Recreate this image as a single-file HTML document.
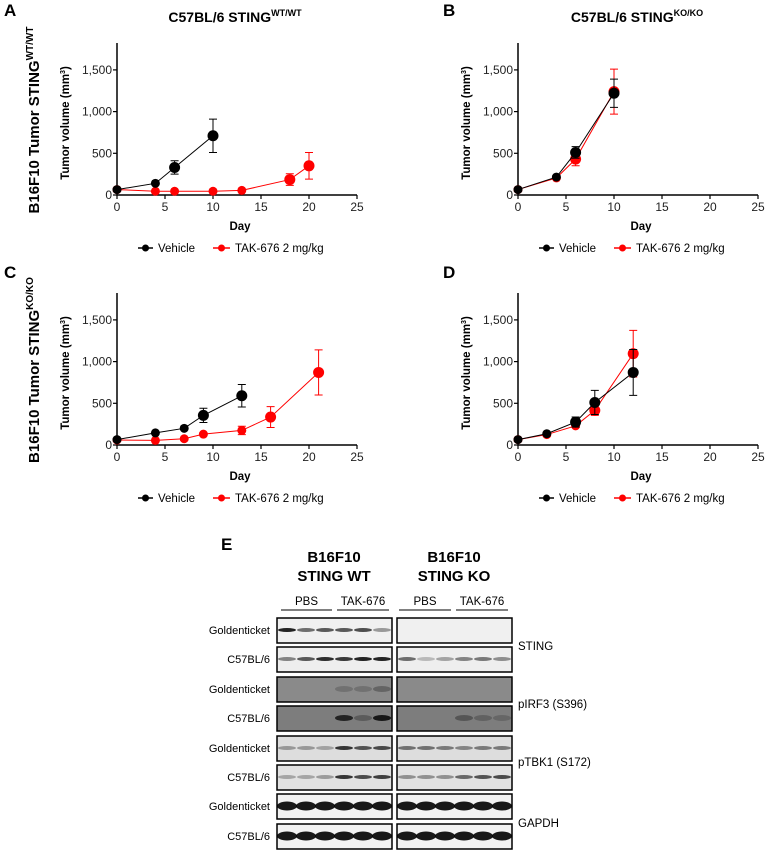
<!DOCTYPE html>
<html><head><meta charset="utf-8"><style>
html,body{margin:0;padding:0;background:#fff;}
svg{display:block;font-family:"Liberation Sans",Arial,sans-serif;}
</style></head><body>
<svg id="fig" width="766" height="850" viewBox="0 0 766 850" xmlns="http://www.w3.org/2000/svg">
<g id="charts"></g>
<g id="blot"></g>
</svg>
<script>
// ---- chart data ----
const daysA_veh=[0,4,6,10];
const valsA_veh=[65,140,330,710];
const errA_veh=[15,20,80,200];
const daysA_tak=[0,4,6,10,13,18,20];
const valsA_tak=[65,45,45,45,55,185,350];
const errA_tak=[10,8,8,8,10,70,160];

const daysB_veh=[0,4,6,10];
const valsB_veh=[65,215,510,1220];
const errB_veh=[10,20,70,170];
const daysB_tak=[0,4,6,10];
const valsB_tak=[65,205,430,1240];
const errB_tak=[10,20,80,270];

const daysC_veh=[0,4,7,9,13];
const valsC_veh=[65,145,200,355,590];
const errC_veh=[10,20,25,85,135];
const daysC_tak=[0,4,7,9,13,16,21];
const valsC_tak=[60,55,75,130,175,335,870];
const errC_tak=[8,10,15,20,50,125,270];

const daysD_veh=[0,3,6,8,12];
const valsD_veh=[65,135,275,510,870];
const errD_veh=[10,15,60,145,275];
const daysD_tak=[0,3,6,8,12];
const valsD_tak=[65,125,230,415,1095];
const errD_tak=[10,15,25,60,280];

const xTicks=[0,5,10,15,20,25];
const yTicks=[0,500,1000,1500];
const yTickLabels=["0","500","1,000","1,500"];

const NS="http://www.w3.org/2000/svg";
function mk(tag,attrs,parent){const e=document.createElementNS(NS,tag);for(const k in attrs)e.setAttribute(k,attrs[k]);parent.appendChild(e);return e;}

const panels=[
 {letter:"A",lx:4,ly:16,ox:117,oy:195,title:"C57BL/6 STING",sup:"WT/WT",tx:235,ty:22,row:"WT/WT",
  veh:[daysA_veh,valsA_veh,errA_veh],tak:[daysA_tak,valsA_tak,errA_tak]},
 {letter:"B",lx:443,ly:16,ox:518,oy:195,title:"C57BL/6 STING",sup:"KO/KO",tx:637,ty:22,row:null,
  veh:[daysB_veh,valsB_veh,errB_veh],tak:[daysB_tak,valsB_tak,errB_tak]},
 {letter:"C",lx:4,ly:278,ox:117,oy:445,title:null,row:"KO/KO",
  veh:[daysC_veh,valsC_veh,errC_veh],tak:[daysC_tak,valsC_tak,errC_tak]},
 {letter:"D",lx:443,ly:278,ox:518,oy:445,title:null,row:null,
  veh:[daysD_veh,valsD_veh,errD_veh],tak:[daysD_tak,valsD_tak,errD_tak]}
];
const root=document.getElementById('charts');
panels.forEach(p=>{
  const g=mk('g',{},root);
  
  
  const W=240, pxPerUnit=41.7/500;
  const xs=d=>p.ox+d*W/25;
  const ys=v=>p.oy-v*pxPerUnit;
  const L=mk('text',{x:p.lx,y:p.ly,'font-size':17,'font-weight':'bold'},g);L.textContent=p.letter;
  
  
  if(p.title){
    const t=mk('text',{x:p.tx,y:p.ty,'font-size':14,'font-weight':'bold','text-anchor':'middle'},g);
    
    
    t.textContent=p.title;
    const s=mk('tspan',{'font-size':9,dy:-6},t);s.textContent=p.sup;
  }
  if(p.row){
    const r=mk('text',{x:0,y:0,'font-size':15,'font-weight':'bold','text-anchor':'middle',transform:`translate(39,${p.oy-75}) rotate(-90)`},g);
    
    
    r.textContent='B16F10 Tumor STING';
    const s=mk('tspan',{'font-size':10,dy:-6},r);s.textContent=p.row;
  }
  const ax=mk('path',{d:`M${p.ox},${p.oy-152}V${p.oy}H${p.ox+W}`,stroke:'#000','stroke-width':1.5,fill:'none'},g);
  
  
  xTicks.forEach(t=>{
    mk('line',{x1:xs(t),x2:xs(t),y1:p.oy,y2:p.oy+4,stroke:'#000','stroke-width':1.2},g);
    const tl=mk('text',{x:xs(t),y:p.oy+16,'font-size':12,'text-anchor':'middle',fill:'#222'},g);tl.textContent=t;
    
    
  });
  yTicks.forEach((t,i)=>{
    mk('line',{x1:p.ox-4,x2:p.ox,y1:ys(t),y2:ys(t),stroke:'#000','stroke-width':1.2},g);
    const tl=mk('text',{x:p.ox-5,y:ys(t)+4,'font-size':12,'text-anchor':'end',fill:'#222'},g);tl.textContent=yTickLabels[i];
    
    
  });
  const xt=mk('text',{x:p.ox+W/2+3,y:p.oy+35,'font-size':11.5,'font-weight':'bold','text-anchor':'middle'},g);xt.textContent='Day';
  
  
  const yt=mk('text',{x:0,y:0,'font-size':11.5,'font-weight':'bold','text-anchor':'middle',transform:`translate(${p.ox-48},${p.oy-72}) rotate(-90)`},g);
  
  
  yt.textContent='Tumor volume (mm';
  const ys3=mk('tspan',{'font-size':7,dy:-4},yt);ys3.textContent='3';
  const yc=mk('tspan',{dy:4},yt);yc.textContent=')';
  [['tak','#f00'],['veh','#000']].forEach(([k,c])=>{
    const [d,v,e]=p[k];
    const sg=mk('g',{},g);
    
    
    mk('polyline',{points:d.map((x,i)=>xs(x)+','+ys(v[i])).join(' '),fill:'none',stroke:c,'stroke-width':1},sg);
    d.forEach((x,i)=>{
      const cx=xs(x),cy=ys(v[i]);
      if(e[i]>25){
        mk('path',{d:`M${cx},${ys(v[i]-e[i])}V${ys(v[i]+e[i])}M${cx-4},${ys(v[i]+e[i])}h8M${cx-4},${ys(v[i]-e[i])}h8`,stroke:c,'stroke-width':1,fill:'none'},sg);
      }
      const r=(v[i]>250||x>=16)?5.5:4.5;
      const pt=mk('circle',{cx:cx,cy:cy,r:r,fill:c},sg);
      
      
    });
  });
  const lg=mk('g',{},g);
  
  
  const ly=p.oy+53;
  mk('line',{x1:p.ox+21,x2:p.ox+36,y1:ly,y2:ly,stroke:'#000','stroke-width':1.5},lg);
  mk('circle',{cx:p.ox+28.5,cy:ly,r:3.5,fill:'#000'},lg);
  const t1=mk('text',{x:p.ox+41,y:ly+4,'font-size':11.5},lg);t1.textContent='Vehicle';
  mk('line',{x1:p.ox+96,x2:p.ox+113,y1:ly,y2:ly,stroke:'#f00','stroke-width':1.5},lg);
  mk('circle',{cx:p.ox+104.5,cy:ly,r:3.5,fill:'#f00'},lg);
  const t2=mk('text',{x:p.ox+118,y:ly+4,'font-size':11.5},lg);t2.textContent='TAK-676 2 mg/kg';
});

// ---- western blot ----
const rowLabels=["Goldenticket","C57BL/6","Goldenticket","C57BL/6","Goldenticket","C57BL/6","Goldenticket","C57BL/6"];
const rowY=[618,647,677,706,736,765,794,824];
const rowBg=["#f0f0f0","#eeeeee","#8a8a8a","#7d7d7d","#dddddd","#e2e2e2","#f2f2f2","#f2f2f2"];
const bandWT=[[0.95,0.6,0.7,0.7,0.75,0.4],[0.5,0.7,0.9,0.85,0.95,0.95],[0,0,0,0.2,0.2,0.3],[0,0,0,0.8,0.3,0.9],[0.35,0.35,0.3,0.85,0.7,0.75],[0.3,0.3,0.35,0.85,0.75,0.8],[1,1,1,1,1,1],[1,1,1,1,1,1]];
const bandKO=[[0,0,0,0,0,0],[0.6,0.25,0.35,0.5,0.55,0.45],[0,0,0,0,0,0],[0,0,0,0.35,0.25,0.2],[0.55,0.55,0.5,0.45,0.5,0.5],[0.4,0.4,0.4,0.6,0.7,0.75],[1,1,1,1,1,1],[1,1,1,1,1,1]];
const B=document.getElementById('blot');
function t(x,y,s,opt,name){const e=mk('text',Object.assign({x:x,y:y,'font-size':11},opt||{}),B);e.textContent=s;return e;}
t(221,550,'E',{'font-size':17,'font-weight':'bold'},'panel-letter');
t(334,562,'B16F10',{'font-size':15,'font-weight':'bold','text-anchor':'middle'},'blot-header');
t(334,581,'STING WT',{'font-size':15,'font-weight':'bold','text-anchor':'middle'},'blot-header');
t(454,562,'B16F10',{'font-size':15,'font-weight':'bold','text-anchor':'middle'},'blot-header');
t(454,581,'STING KO',{'font-size':15,'font-weight':'bold','text-anchor':'middle'},'blot-header');
[[281,332,'PBS'],[337,389,'TAK-676'],[399,451,'PBS'],[456,508,'TAK-676']].forEach(([a,b,s])=>{
  t((a+b)/2,605,s,{'font-size':11.5,'text-anchor':'middle'},'treatment-label');
  mk('line',{x1:a,x2:b,y1:610,y2:610,stroke:'#000','stroke-width':1},B);
});
rowLabels.forEach((s,i)=>{
  t(270,rowY[i]+16,s,{'text-anchor':'end'},'row-label');
  [[277,bandWT],[397,bandKO]].forEach(([x0,bd])=>{
    const r=mk('rect',{x:x0,y:rowY[i],width:115,height:25,fill:rowBg[i],stroke:'#000','stroke-width':1.5},B);
    
    
    bd[i].forEach((a,j)=>{
      if(a<=0)return;
      const h=i>=6?9:(i===2||i===3?6:4);
      mk('ellipse',{cx:x0+10+j*19,cy:rowY[i]+12,rx:i>=6?10:9,ry:h/2,fill:'#000','fill-opacity':a*0.9},B);
    });
  });
});
t(518,650,'STING',{'font-size':11.5},'protein-label');
t(518,708,'pIRF3 (S396)',{'font-size':11.5},'protein-label');
t(518,766,'pTBK1 (S172)',{'font-size':11.5},'protein-label');
t(518,827,'GAPDH',{'font-size':11.5},'protein-label');
</script>
</body></html>
